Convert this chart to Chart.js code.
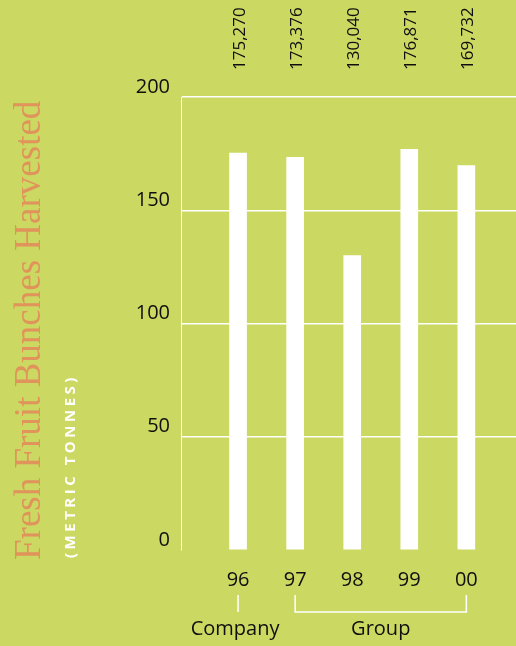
<!DOCTYPE html>
<html>
<head>
<meta charset="utf-8">
<script src="https://cdn.jsdelivr.net/npm/chart.js@4"></script>
<style>
  html, body { margin: 0; padding: 0; background: #cbd862; overflow: hidden; }
  canvas { display: block; }
</style>
</head>
<body>
<canvas id="ffbChart" width="516" height="646"></canvas>
<script>
// harvest per year, thousand metric tonnes
const years = ['96', '97', '98', '99', '00'];
const harvested = [175.270, 173.376, 130.040, 176.871, 169.732];
const yTicks = [0, 50, 100, 150, 200];
const groups = [
  { label: 'Company', from: 0, to: 0 },
  { label: 'Group', from: 1, to: 4 }
];

const INK = '#0f0f0f';
const SANS = '"Open Sans", "Noto Sans", sans-serif';

// rotated titles on the left
const sideTitles = {
  id: 'sideTitles',
  afterDraw(chart) {
    const { ctx } = chart;
    ctx.save();
    ctx.translate(40, 560);
    ctx.rotate(-Math.PI / 2);
    ctx.font = '37px "Liberation Serif", "DejaVu Serif", serif';
    ctx.fillStyle = '#e0935a';
    ctx.textAlign = 'left';
    ctx.textBaseline = 'alphabetic';
    ctx.fillText('Fresh Fruit Bunches Harvested', 0, 0);
    ctx.restore();

    ctx.save();
    ctx.translate(75, 558);
    ctx.rotate(-Math.PI / 2);
    ctx.font = 'bold 15px ' + SANS;
    ctx.letterSpacing = '3.5px';
    ctx.fillStyle = '#ffffff';
    ctx.textAlign = 'left';
    ctx.textBaseline = 'alphabetic';
    ctx.fillText('(METRIC TONNES)', 0, 0);
    ctx.restore();
  }
};

// full tonnage written vertically above each bar
const valueLabels = {
  id: 'valueLabels',
  afterDatasetsDraw(chart) {
    const { ctx } = chart;
    const bars = chart.getDatasetMeta(0).data;
    ctx.save();
    ctx.font = '17px ' + SANS;
    ctx.fillStyle = INK;
    ctx.textAlign = 'left';
    ctx.textBaseline = 'middle';
    bars.forEach((bar, i) => {
      const txt = Math.round(harvested[i] * 1000).toLocaleString('en-US');
      ctx.save();
      ctx.translate(bar.x + 2, 70);
      ctx.rotate(-Math.PI / 2);
      ctx.fillText(txt, 0, 0);
      ctx.restore();
    });
    ctx.restore();
  }
};

// Company / Group brackets under the year labels
const groupBrackets = {
  id: 'groupBrackets',
  afterDraw(chart) {
    const { ctx } = chart;
    const x = chart.scales.x;
    const top = 595, bottom = 612;
    ctx.save();
    ctx.strokeStyle = '#ffffff';
    ctx.lineWidth = 1.5;
    ctx.font = '20px ' + SANS;
    ctx.fillStyle = INK;
    ctx.textAlign = 'center';
    ctx.textBaseline = 'middle';
    groups.forEach(g => {
      const x0 = x.getPixelForValue(g.from + 1);
      const x1 = x.getPixelForValue(g.to + 1);
      ctx.beginPath();
      ctx.moveTo(x0, top);
      ctx.lineTo(x0, bottom);
      if (x0 !== x1) {
        ctx.lineTo(x1, bottom);
        ctx.lineTo(x1, top);
      }
      ctx.stroke();
      ctx.fillText(g.label, (x0 + x1) / 2 - (x0 === x1 ? 3 : 0), 629);
    });
    ctx.restore();
  }
};

new Chart(document.getElementById('ffbChart'), {
  type: 'bar',
  data: {
    datasets: [{
      data: years.map((y, i) => ({ x: i + 1, y: harvested[i] })),
      backgroundColor: '#ffffff',
      borderWidth: 0,
      barThickness: 17
    }]
  },
  options: {
    responsive: false,
    animation: false,
    devicePixelRatio: 1,
    layout: { padding: { top: 97, left: 0, right: 0, bottom: 0 } },
    plugins: {
      legend: { display: false },
      tooltip: { enabled: false }
    },
    scales: {
      x: {
        type: 'linear',
        offset: false,
        min: 0,
        max: 5.87,
        afterBuildTicks: s => { s.ticks = years.map((y, i) => ({ value: i + 1 })); },
        grid: { display: false },
        border: { display: false },
        ticks: {
          autoSkip: false,
          maxRotation: 0,
          padding: 10,
          color: INK,
          font: { family: SANS, size: 20 },
          callback: v => years[v - 1] ?? ''
        },
        afterFit: s => { s.height = 96; }
      },
      y: {
        min: 0,
        max: 200,
        afterBuildTicks: s => { s.ticks = yTicks.map(v => ({ value: v })); },
        grid: {
          color: c => (c.tick && c.tick.value === 0) ? 'rgba(0,0,0,0)' : '#ffffff',
          lineWidth: 1.5,
          drawTicks: false
        },
        border: { display: true, color: '#ffffff', width: 1 },
        ticks: {
          padding: 11,
          labelOffset: -10,
          color: INK,
          font: { family: SANS, size: 20 }
        },
        afterFit: s => { s.width = 181; }
      }
    }
  },
  plugins: [sideTitles, valueLabels, groupBrackets]
});
</script>
</body>
</html>
